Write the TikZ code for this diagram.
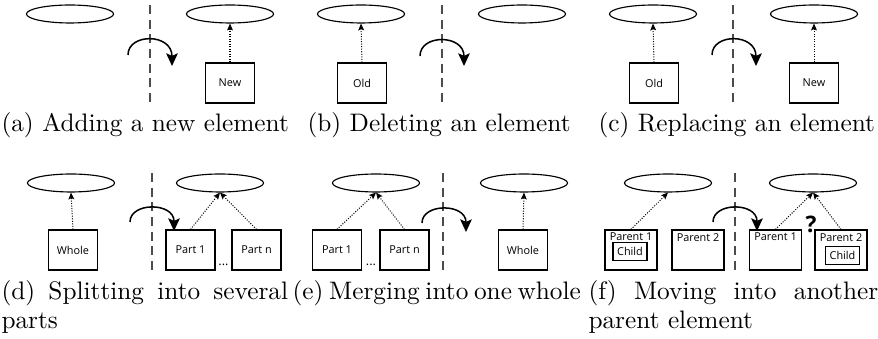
\documentclass[tikz,border=0pt]{standalone}
\usepackage{fontspec}
\newfontfamily\boxfont{Open Sans}
\usetikzlibrary{arrows.meta,shapes.geometric}

\newlength\capw
\setlength\capw{114.55pt}
\newlength\capwd
\setlength\capwd{113.3pt}
\newlength\capwe
\setlength\capwe{114pt}

\tikzset{
  elem/.style={draw, ellipse, line width=0.45pt, minimum width=34.4pt,
    minimum height=7.1pt, inner sep=0pt},
  box/.style={draw, line width=0.5pt, minimum width=19.4pt, minimum height=15.8pt,
    inner sep=0pt, font=\boxfont\fontsize{4.3}{5}\selectfont},
  pbox/.style={box, minimum width=20.6pt},
  cbox/.style={draw, line width=0.45pt, minimum width=13.4pt, minimum height=7pt,
    inner sep=0pt, font=\boxfont\fontsize{4.3}{5}\selectfont},
  btxt/.style={inner sep=0pt, font=\boxfont\fontsize{4.3}{5}\selectfont},
  dots/.style={inner sep=0pt, font=\boxfont\fontsize{5}{6}\selectfont},
  ref/.style={line width=0.4pt, dash pattern=on 0.4pt off 0.6pt,
    -{Stealth[width=2.3pt,length=2.7pt,inset=0.5pt]}},
  move/.style={line width=0.6pt, -{Stealth[width=4.6pt,length=5pt,inset=1pt]}},
  cut/.style={line width=0.5pt, draw=black!70, dash pattern=on 3.6pt off 2.2pt},
  captext/.style={inner sep=0pt, anchor=base west, font=\fontsize{10}{12}\selectfont},
  qmark/.style={inner sep=0pt, font=\boxfont\bfseries\fontsize{9}{10}\selectfont}
}

\begin{document}
\begin{tikzpicture}[x=0.3953pt, y=-0.3953pt]
\useasboundingbox (0,0) rectangle (878,339);

% ---------- (a) adding ----------
\node[elem] (a1) at (70,14) {};
\node[elem] (a2) at (230,14) {};
\node[box] (anew) at (230,83) {New};
\coordinate (acut1) at (150,5); \coordinate (acut2) at (150,105);
\draw[cut] (acut1) -- (acut2);
\coordinate (as) at (128,55); \coordinate (ae) at (172,66);
\draw[move] (as) .. controls (128,33) and (172,33) .. (ae);
\draw[ref] (anew.north) -- (a2.south);

% ---------- (b) deleting ----------
\node[elem] (b1) at (361,14) {};
\node[elem] (b2) at (522,14) {};
\node[box] (bold) at (362,83) {Old};
\coordinate (bcut1) at (442,5); \coordinate (bcut2) at (442,105);
\draw[cut] (bcut1) -- (bcut2);
\coordinate (bs) at (420,56); \coordinate (be) at (464,66);
\draw[move] (bs) .. controls (420,34) and (464,34) .. (be);
\draw[ref] (bold.north) -- (b1.south);

% ---------- (c) replacing ----------
\node[elem] (c1) at (653,14) {};
\node[elem] (c2) at (814,14) {};
\node[box] (cold) at (654,83) {Old};
\node[box] (cnew) at (814,83) {New};
\coordinate (ccut1) at (733,5); \coordinate (ccut2) at (733,105);
\draw[cut] (ccut1) -- (ccut2);
\coordinate (cs) at (712,55); \coordinate (ce) at (756,66);
\draw[move] (cs) .. controls (712,33) and (756,33) .. (ce);
\draw[ref] (cold.north) -- (c1.south);
\draw[ref] (cnew.north) -- (c2.south);

% ---------- (d) splitting ----------
\node[elem] (d1) at (71,183) {};
\node[elem] (d2) at (220,183) {};
\node[box] (dwhole) at (73,250) {Whole};
\node[box] (dp1) at (190.5,250) {Part 1};
\node[box] (dpn) at (256.5,250) {Part n};
\node[dots, anchor=base] (ddots) at (223.5,266) {...};
\coordinate (dcut1) at (152,173); \coordinate (dcut2) at (152,271);
\draw[cut] (dcut1) -- (dcut2);
\coordinate (ds) at (130,222); \coordinate (de) at (174,231);
\draw[move] (ds) .. controls (130,202) and (174,202) .. (de);
\draw[ref] (dwhole.north) -- (d1.south);
\draw[ref] (dp1.north) -- (d2.south);
\draw[ref] (dpn.north) -- (d2.south);

% ---------- (e) merging ----------
\node[elem] (e1) at (376,183) {};
\node[elem] (e2) at (524,183) {};
\node[box] (ep1) at (337,250) {Part 1};
\node[box] (epn) at (404.5,250) {Part n};
\node[dots, anchor=base] (edots) at (371,266) {...};
\node[box] (ewhole) at (523,250) {Whole};
\coordinate (ecut1) at (443,173); \coordinate (ecut2) at (443,271);
\draw[cut] (ecut1) -- (ecut2);
\coordinate (es) at (422,223); \coordinate (ee) at (466,232);
\draw[move] (es) .. controls (422,203) and (466,203) .. (ee);
\draw[ref] (ep1.north) -- (e1.south);
\draw[ref] (epn.north) -- (e1.south);
\draw[ref] (ewhole.north) -- (e2.south);

% ---------- (f) moving ----------
\node[elem] (f1) at (668,183) {};
\node[elem] (f2) at (813,183) {};
\node[pbox] (fpa) at (631,250) {};
\node[btxt, anchor=north] (fpat) at ([yshift=-1.3pt]fpa.north) {Parent 1};
\node[cbox] (fchild) at (630,251.5) {Child};
\node[pbox] (fpb) at (698,250) {};
\node[btxt, anchor=north] (fpbt) at ([yshift=-1.3pt]fpb.north) {Parent 2};
\node[pbox] (gpa) at (775.5,250) {};
\node[btxt, anchor=north] (gpat) at ([yshift=-1.3pt]gpa.north) {Parent 1};
\node[pbox] (gpb) at (841,250) {};
\node[btxt, anchor=north] (gpbt) at ([yshift=-1.3pt]gpb.north) {Parent 2};
\node[cbox] (gchild) at (842.5,255.5) {Child};
\node[qmark] (fq) at (811,224) {?};
\coordinate (fcut1) at (735,173); \coordinate (fcut2) at (735,271);
\draw[cut] (fcut1) -- (fcut2);
\coordinate (fs) at (713,222); \coordinate (fe) at (757,231);
\draw[move] (fs) .. controls (713,202) and (757,202) .. (fe);
\draw[ref] (fpa.north) -- (f1.south);
\draw[ref] (gpa.north) -- (f2.south);
\draw[ref] (gpb.north) -- (f2.south);

% ---------- captions ----------
\node[captext] (capa) at (1,132) {(a) Adding a new element};
\node[captext] (capb) at (307,132) {(b) Deleting an element};
\node[captext] (capc) at (598,132) {(c) Replacing an element};
\node[captext] (capd) at (1,300) {\hbox to\capwd{(d) Splitting into several}};
\node[captext] (capd2) at (1,329) {parts};
\node[captext] (cape) at (292,300) {\hbox to\capwe{(e) Merging into one whole}};
\node[captext] (capf) at (588,300) {\hbox to\capw{(f) Moving into another}};
\node[captext] (capf2) at (588,329) {parent element};
\end{tikzpicture}
\end{document}
